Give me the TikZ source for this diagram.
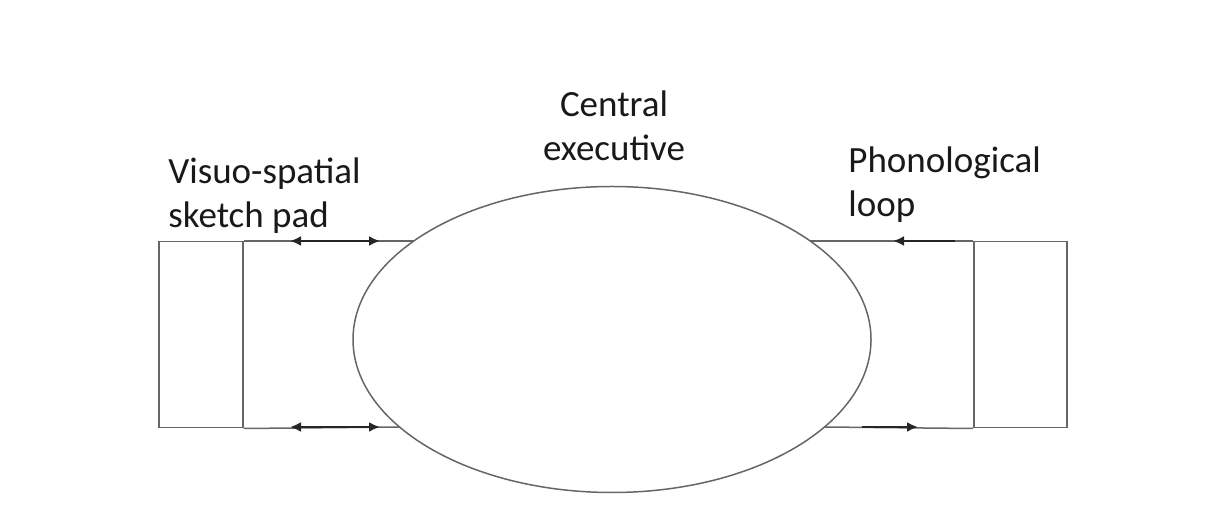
\documentclass[tikz,border=0pt]{standalone}
\usepackage{fontspec}
\setmainfont{Carlito}
\usetikzlibrary{shapes.geometric,arrows.meta}
\begin{document}
\begin{tikzpicture}[x=0.5pt,y=-0.5pt,
  frame/.style={draw=black!60,line width=0.75pt},
  flow/.style={draw=black!85,line width=1.1pt},
  tip/.style={-{Latex[length=5.5pt,width=5pt]}},
  lbl/.style={font=\fontsize{18.5pt}{22pt}\selectfont,text=black!90,inner sep=0pt,align=left},
]
\useasboundingbox (0,0) rectangle (1218,522);
% central executive
\node[frame,ellipse,minimum width=259pt,minimum height=153pt,inner sep=0pt] (ce) at (612,339.5) {};
% left box
\node[frame,rectangle,minimum width=42pt,minimum height=93pt,inner sep=0pt,anchor=north west] (vs) at (158,241) {};
\coordinate (lt) at (414,241);
\coordinate (lb) at (400,427);
\draw[frame] (vs.north east) -- (lt);
\draw[frame] (vs.south east) -- (lb);
\coordinate (la1) at (290,241);
\coordinate (la2) at (380,241);
\coordinate (la3) at (290,427);
\coordinate (la4) at (380,427);
\draw[flow,{Latex[length=5.5pt,width=5pt]}-{Latex[length=5.5pt,width=5pt]}] (la1) -- (la2);
\draw[flow,{Latex[length=5.5pt,width=5pt]}-{Latex[length=5.5pt,width=5pt]}] (la3) -- (la4);
% right box
\node[frame,rectangle,minimum width=46.5pt,minimum height=93pt,inner sep=0pt,anchor=north west] (pl) at (973,241) {};
\coordinate (rt) at (810,241);
\coordinate (rb) at (824,427);
\draw[frame] (rt) -- (pl.north west);
\draw[frame] (rb) -- (pl.south west);
\coordinate (ra1) at (955,241);
\coordinate (ra2) at (893,241);
\coordinate (ra3) at (862,427);
\coordinate (ra4) at (918,427);
\draw[flow,tip] (ra1) -- (ra2);
\draw[flow,tip] (ra3) -- (ra4);
% labels
\node[lbl,anchor=base] (t1) at (614,117) {Central};
\node[lbl,anchor=base] (t2) at (614,161) {executive};
\node[lbl,anchor=base west] (t3) at (168,184) {Visuo-spatial};
\node[lbl,anchor=base west] (t4) at (168,228) {sketch pad};
\node[lbl,anchor=base west] (t5) at (848,173) {Phonological};
\node[lbl,anchor=base west] (t6) at (848,217) {loop};
\end{tikzpicture}
\end{document}
